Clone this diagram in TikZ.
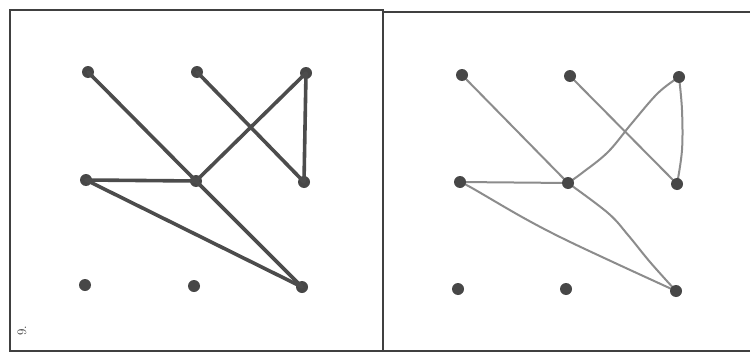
\documentclass[tikz,border=0pt]{standalone}
\begin{document}
\begin{tikzpicture}[x=1pt,y=-1pt,
  dot/.style={circle,fill=black!72,inner sep=0pt,minimum size=12pt},
  boldedge/.style={draw=black!70,line width=3.6pt,line cap=round},
  thinedge/.style={draw=black!45,line width=2pt,line cap=round,line join=round},
  frame/.style={draw=black!75,line width=2.6pt}]
\useasboundingbox (0,0) rectangle (750,356);
\fill[white] (0,0) rectangle (750,356);
% frame
\draw[frame] (10,10) -- (383,10) -- (383,351);
\draw[frame] (10,9) -- (10,351) -- (751,351);
\draw[frame] (383,12) -- (751,12);
\node[rotate=90,font=\fontsize{13}{13}\selectfont,text=black!80] (lab) at (22,331) {9.};
% left panel dots
\node[dot] (a1) at (88,72) {};
\node[dot] (a2) at (197,72) {};
\node[dot] (a3) at (306,73) {};
\node[dot] (b1) at (86,180) {};
\node[dot] (b2) at (196,181) {};
\node[dot] (b3) at (304,182) {};
\node[dot] (c1) at (85,285) {};
\node[dot] (c2) at (194,286) {};
\node[dot] (c3) at (302,287) {};
% left panel edges
\draw[boldedge] (a1.center) -- (b2.center);
\draw[boldedge] (b2.center) -- (c3.center);
\draw[boldedge] (a2.center) -- (b3.center);
\draw[boldedge] (a3.center) -- (b2.center);
\draw[boldedge] (a3.center) -- (b3.center);
\draw[boldedge] (b1.center) -- (b2.center);
\draw[boldedge] (b1.center) -- (c3.center);
% right panel dot positions
\coordinate (p1) at (462,75);
\coordinate (p2) at (570,76);
\coordinate (p3) at (679,77);
\coordinate (q1) at (460,182);
\coordinate (q2) at (568,183);
\coordinate (q3) at (677,184);
\coordinate (r1) at (458,289);
\coordinate (r2) at (566,289);
\coordinate (r3) at (676,291);
% right panel edges
\draw[thinedge] (p1) -- (q2);
\draw[thinedge] plot[smooth,tension=0.6] coordinates {(q2) (608,213) (628,235) (650,262) (r3)};
\draw[thinedge] (p2) -- (q3);
\draw[thinedge] plot[smooth,tension=0.6] coordinates {(p3) (658,93) (632,123) (608,152) (582,173) (q2)};
\draw[thinedge] plot[smooth,tension=0.6] coordinates {(p3) (682,110) (682,150) (q3)};
\draw[thinedge] (q1) -- (q2);
\draw[thinedge] plot[smooth,tension=0.6] coordinates {(q1) (472,188) (522,217) (562,238) (615,263) (r3)};
% right panel dots
\node[dot] (d1) at (p1) {};
\node[dot] (d2) at (p2) {};
\node[dot] (d3) at (p3) {};
\node[dot] (e1) at (q1) {};
\node[dot] (e2) at (q2) {};
\node[dot] (e3) at (q3) {};
\node[dot] (f1) at (r1) {};
\node[dot] (f2) at (r2) {};
\node[dot] (f3) at (r3) {};
\end{tikzpicture}
\end{document}
